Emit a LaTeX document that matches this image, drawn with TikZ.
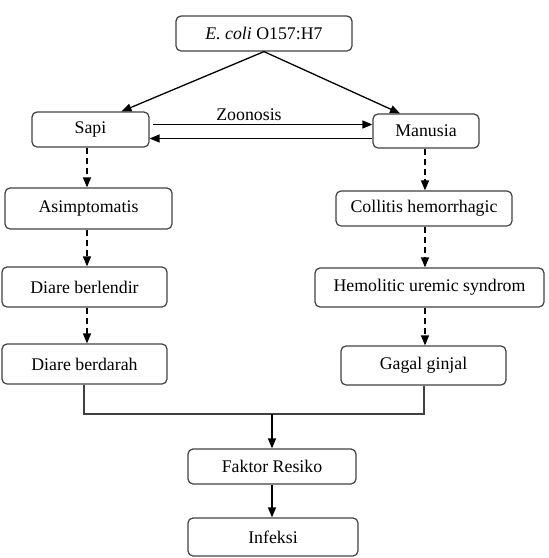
\documentclass[tikz,border=0pt]{standalone}
\usepackage{fontspec}
\setmainfont{Liberation Serif}
\usetikzlibrary{arrows.meta}
\begin{document}
\begin{tikzpicture}[x=1pt,y=-1pt,
  box/.style={draw=black!75, line width=1.2pt, rounded corners=5pt, inner sep=0pt,
    font=\fontsize{17.8}{20}\selectfont},
  arr/.style={line width=1.3pt, -{Triangle[length=10pt,width=8pt]}},
  darr/.style={arr, dash pattern=on 6pt off 4pt},
  plain/.style={line width=1.3pt, draw=black!75}]
\useasboundingbox (0,0) rectangle (549,558);
\node[box, minimum width=176pt, minimum height=35pt] (ecoli) at (264,33.5) {\textit{E. coli} O157:H7};
\node[box, minimum width=117pt, minimum height=35pt] (sapi) at (90.5,129.5) {Sapi};
\node[box, minimum width=106pt, minimum height=34pt] (manusia) at (426,131) {Manusia};
\node[box, minimum width=167pt, minimum height=41pt] (asim) at (88.5,208.5) {Asimptomatis};
\node[box, minimum width=176pt, minimum height=35pt] (coll) at (424,208.5) {Collitis hemorrhagic};
\node[box, minimum width=165pt, minimum height=40pt] (lendir) at (84.5,287) {Diare berlendir};
\node[box, minimum width=229pt, minimum height=39pt] (hus) at (429.5,287.5) {Hemolitic uremic syndrom};
\node[box, minimum width=165pt, minimum height=40pt] (darah) at (84.5,364) {Diare berdarah};
\node[box, minimum width=165pt, minimum height=39pt] (gagal) at (423.5,365.5) {Gagal ginjal};
\node[box, minimum width=168pt, minimum height=35pt] (faktor) at (272,466.5) {Faktor Resiko};
\node[box, minimum width=170pt, minimum height=38pt] (infeksi) at (273,537) {Infeksi};
\node[font=\fontsize{17.8}{20}\selectfont, inner sep=0pt] (zoo) at (249,115) {Zoonosis};

\coordinate (cl) at (87,0);
\coordinate (cr) at (425,0);
\coordinate (bl) at (84,0);
\coordinate (br) at (424,0);
\coordinate (up) at (0,124.5);
\coordinate (lo) at (0,138.5);
\coordinate (mid) at (272,414);

\draw[arr] (ecoli.south) -- ([xshift=31pt]sapi.north);
\draw[arr] (ecoli.south) -- ([xshift=-26pt]manusia.north);
\draw[arr] ([xshift=3pt]sapi.east |- up) -- (manusia.west |- up);
\draw[arr] (manusia.west |- lo) -- (sapi.east |- lo);

\draw[darr] (sapi.south -| cl) -- (asim.north -| cl);
\draw[darr] (asim.south -| cl) -- (lendir.north -| cl);
\draw[darr] (lendir.south -| cl) -- (darah.north -| cl);
\draw[darr] (manusia.south -| cr) -- (coll.north -| cr);
\draw[darr] (coll.south -| cr) -- (hus.north -| cr);
\draw[darr] (hus.south -| cr) -- (gagal.north -| cr);

\draw[plain] (darah.south -| bl) -- (bl |- mid) -- (br |- mid) -- (gagal.south -| br);
\draw[arr] (mid) -- (faktor.north -| mid);
\draw[arr] (faktor.south -| mid) -- (infeksi.north -| mid);
\end{tikzpicture}
\end{document}
